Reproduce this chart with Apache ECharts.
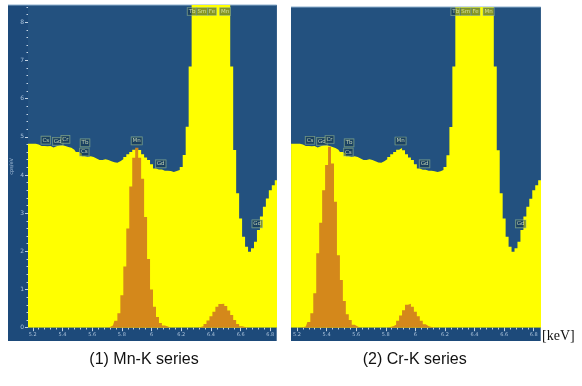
<!DOCTYPE html>
<html><head><meta charset="utf-8">
<script src="https://cdn.jsdelivr.net/npm/echarts@6/dist/echarts.min.js"></script>
<style>html,body{margin:0;padding:0;background:#fff}#c{width:582px;height:386px}</style>
</head><body><div id="c"></div>
<script>
// channel grid of the displayed spectrum (keV)
const energyStart = 5.16, energyStep = 0.02;
// measured spectrum (cps/eV), same specimen in both panels
const spectrum = [4.82,4.82,4.82,4.82,4.80,4.76,4.76,4.75,4.76,4.72,
 4.75,4.77,4.78,4.76,4.73,4.71,4.66,4.60,4.56,4.49,
 4.47,4.49,4.47,4.43,4.39,4.39,4.41,4.39,4.36,4.33,
 4.32,4.36,4.41,4.47,4.54,4.60,4.66,4.71,4.65,4.54,
 4.46,4.39,4.28,4.17,4.14,4.14,4.11,4.11,4.10,4.08,
 4.10,4.13,4.21,4.52,5.26,6.84,9.5,9.5,9.5,9.5,
 9.5,9.5,9.5,9.5,9.5,9.5,9.5,9.5,9.5,6.84,
 4.65,3.52,2.86,2.38,2.12,1.99,2.08,2.25,2.56,2.91,
 3.17,3.38,3.60,3.73,3.86,3.92];
// Mn-K series fit
const mnK = [0,0,0,0,0,0,0,0,0,0,
 0,0,0,0,0,0,0,0,0,0,
 0,0,0,0,0,0,0,0,0.02,0.06,
 0.18,0.38,0.85,1.6,2.6,3.7,4.45,4.71,4.45,3.9,
 2.9,1.8,1.0,0.55,0.28,0.12,0.06,0.03,0,0,
 0,0,0,0,0,0,0,0,0.02,0.04,
 0.1,0.19,0.30,0.42,0.55,0.62,0.63,0.57,0.45,0.33,
 0.2,0.1,0.04,0.02,0,0,0,0,0,0,
 0,0,0,0,0,0];
// Cr-K series fit
const crK = [0,0,0,0,0.01,0.03,0.15,0.38,0.9,1.95,
 2.75,3.6,4.26,4.74,4.3,3.3,1.9,1.25,0.7,0.35,
 0.2,0.08,0.03,0,0,0,0,0,0,0,
 0,0,0,0.02,0.04,0.08,0.18,0.32,0.46,0.6,
 0.63,0.55,0.42,0.3,0.18,0.09,0.04,0.02,0,0,
 0,0,0,0,0,0,0,0,0,0,
 0,0,0,0,0,0,0,0,0,0,
 0,0,0,0,0,0,0,0,0,0,
 0,0,0,0,0,0];
const xTickLabels = [5.2,5.4,5.6,5.8,6,6.2,6.4,6.6,6.8];
const yTickLabels = [0,1,2,3,4,5,6,7,8];
const peakNames    = ['Cs','Gd','Cr','Tb','Cs','Mn','Gd','Gd','Tb','Sm','Fe','Mn'];
const peakEnergies = [5.288,5.368,5.42,5.552,5.547,5.90,6.062,6.712,6.273,6.34,6.407,6.495];
const peakHeights  = [4.91,4.88,4.93,4.84,4.60,4.89,4.29,2.72,8.28,8.28,8.28,8.28];
const panelTitles = ['(1) Mn-K series','(2) Cr-K series'];
const unitLabel = '[keV]';
const yAxisName = 'cps/eV';

const energies = spectrum.map((_, i) => +(energyStart + i * energyStep).toFixed(2));
const xMinor = []; for (let k = 0; k <= 40; k++) xMinor.push(+(5.2 + k * 0.04).toFixed(2));
const yMinor = []; for (let k = 0; k <= 42; k++) yMinor.push(+(k * 0.2).toFixed(1));

const YELLOW = '#ffff00', ORANGE = '#d4881b', PLOT = '#23517f', FRAME = '#1d4a7a';
const tickColor = '#c4d4e4', labColor = '#a9c1da';

const panels = [
  {left: 28, top: 5, width: 248.7, height: 322.7, xmin: 5.168, xmax: 6.843, ymax: 8.45, peak: mnK},
  {left: 291, top: 7, width: 249.7, height: 320.7, xmin: 5.1595, xmax: 6.847, ymax: 8.40, peak: crK}
];

const grid = [], xAxis = [], yAxis = [], series = [];
panels.forEach((p, pi) => {
  grid.push({left: p.left, top: p.top, width: p.width, height: p.height});
  const xi = xAxis.length, yi = yAxis.length;
  xAxis.push({type: 'value', gridIndex: pi, min: p.xmin, max: p.xmax, position: 'bottom',
    axisLine: {show: false}, splitLine: {show: false},
    axisLabel: {customValues: xTickLabels, fontSize: 5, color: labColor, margin: 5, fontFamily: 'DejaVu Sans'},
    axisTick: {customValues: xTickLabels, length: 3.5, lineStyle: {color: tickColor, width: 1}}});
  xAxis.push({type: 'value', gridIndex: pi, min: p.xmin, max: p.xmax, position: 'bottom',
    axisLine: {show: false}, splitLine: {show: false}, axisLabel: {show: false},
    axisTick: {customValues: xMinor, length: 1.8, lineStyle: {color: tickColor, width: 1}}});
  if (pi === 0) {
    yAxis.push({type: 'value', gridIndex: pi, min: 0, max: p.ymax, position: 'left',
      axisLine: {show: false}, splitLine: {show: false},
      axisLabel: {customValues: yTickLabels, fontSize: 6, color: labColor, margin: 4, fontFamily: 'DejaVu Sans'},
      axisTick: {customValues: yTickLabels, length: 3, lineStyle: {color: tickColor}},
      name: yAxisName, nameLocation: 'middle', nameRotate: 90, nameGap: 14,
      nameTextStyle: {fontSize: 5, color: labColor, fontFamily: 'DejaVu Sans'}});
    yAxis.push({type: 'value', gridIndex: pi, min: 0, max: p.ymax, position: 'left',
      axisLine: {show: false}, splitLine: {show: false}, axisLabel: {show: false},
      axisTick: {customValues: yMinor, length: 1.5, lineStyle: {color: tickColor}}});
  } else {
    yAxis.push({type: 'value', gridIndex: pi, min: 0, max: p.ymax, show: false, splitLine: {show: false}});
  }
  const area = (vals, color, z) => ({type: 'line', xAxisIndex: xi, yAxisIndex: yi, step: 'middle',
    symbol: 'none', showSymbol: false, clip: true, silent: true, z,
    data: vals.map((v, i) => [energies[i], v]),
    lineStyle: {width: 0, color}, itemStyle: {color}, areaStyle: {color, opacity: 1}});
  series.push(area(spectrum, YELLOW, 2));
  series.push(area(p.peak, ORANGE, 3));
  series.push({type: 'scatter', xAxisIndex: xi, yAxisIndex: yi, symbolSize: 0, silent: true, z: 6,
    itemStyle: {color: 'rgba(0,0,0,0)'},
    data: peakNames.map((n, i) => ({name: n, value: [peakEnergies[i], peakHeights[i]]})),
    label: {show: true, position: 'inside', formatter: '{b}', fontSize: 5.5, fontFamily: 'DejaVu Sans',
      color: '#e4efc4', backgroundColor: 'rgba(16,46,66,0.62)', borderColor: 'rgba(160,195,150,0.85)',
      borderWidth: 0.6, padding: [1, 1.2, 0.5, 1.2]}});
});

const chart = echarts.init(document.getElementById('c'), null, {renderer: 'canvas'});
chart.setOption({
  animation: false,
  backgroundColor: '#ffffff',
  grid, xAxis, yAxis, series,
  graphic: [
    {type: 'rect', z: -10, silent: true, shape: {x: 8, y: 5, width: 268.7, height: 336}, style: {fill: FRAME}},
    {type: 'rect', z: -9, silent: true, shape: {x: 28, y: 5, width: 248.7, height: 322.7}, style: {fill: PLOT}},
    {type: 'rect', z: -8, silent: true, shape: {x: 8, y: 4.5, width: 268.7, height: 1}, style: {fill: '#8fb2d0'}},
    {type: 'rect', z: -10, silent: true, shape: {x: 291, y: 7, width: 249.7, height: 334}, style: {fill: FRAME}},
    {type: 'rect', z: -9, silent: true, shape: {x: 291, y: 7, width: 249.7, height: 320.7}, style: {fill: PLOT}},
    {type: 'rect', z: -8, silent: true, shape: {x: 291, y: 6.5, width: 249.7, height: 1}, style: {fill: '#8fb2d0'}},
    {type: 'text', z: 10, style: {text: panelTitles[0], x: 144, y: 360, textAlign: 'center', textVerticalAlign: 'middle',
      font: '16px "Liberation Sans", Arial, sans-serif', fill: '#111'}},
    {type: 'text', z: 10, style: {text: panelTitles[1], x: 414.7, y: 360, textAlign: 'center', textVerticalAlign: 'middle',
      font: '16px "Liberation Sans", Arial, sans-serif', fill: '#111'}},
    {type: 'text', z: 10, style: {text: unitLabel, x: 542, y: 336, textAlign: 'left', textVerticalAlign: 'middle',
      font: '14px "Liberation Serif", "Times New Roman", serif', fill: '#111'}}
  ]
});
</script></body></html>
